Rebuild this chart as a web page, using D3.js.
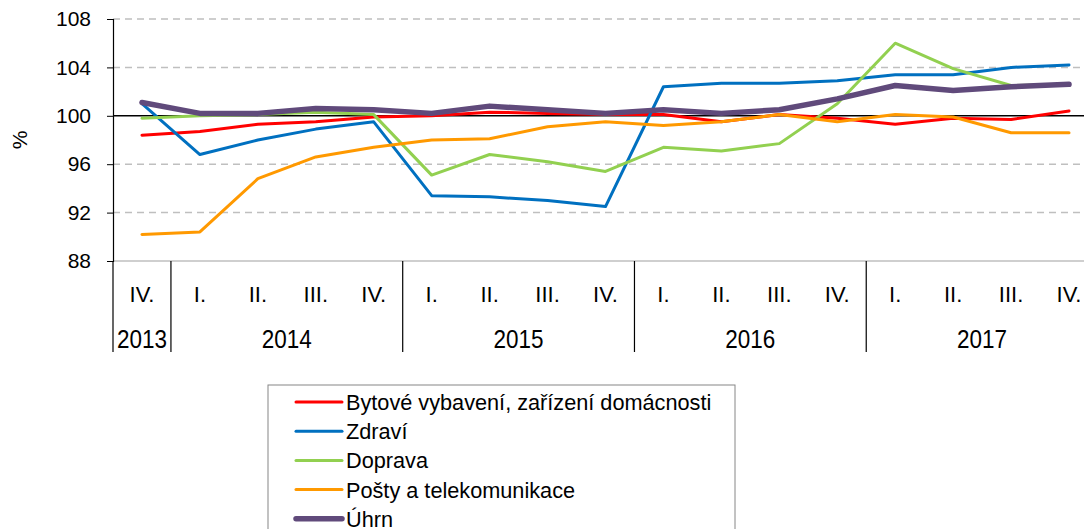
<!DOCTYPE html>
<html>
<head>
<meta charset="utf-8">
<script src="https://cdn.jsdelivr.net/npm/d3@7"></script>
<style>
  body { margin: 0; background: #fff; }
  svg { display: block; font-family: "Liberation Sans", Arial, sans-serif; }
</style>
</head>
<body>
<div id="chart"></div>
<script>
// quarters IV.2013 .. IV.2017
const quarters = ["IV.", "I.", "II.", "III.", "IV.", "I.", "II.", "III.", "IV.", "I.", "II.", "III.", "IV.", "I.", "II.", "III.", "IV."];
const years = [["2013", 1], ["2014", 4], ["2015", 4], ["2016", 4], ["2017", 4]];
const yTicks = [88, 92, 96, 100, 104, 108];

const bytove  = [98.4, 98.7, 99.3, 99.5, 99.9, 100.0, 100.3, 100.2, 100.1, 100.1, 99.5, 100.1, 99.8, 99.3, 99.8, 99.7, 100.4];
const zdravi  = [101.0, 96.8, 98.0, 98.9, 99.5, 93.4, 93.3, 93.0, 92.5, 102.4, 102.7, 102.7, 102.9, 103.4, 103.4, 104.0, 104.2];
const doprava = [99.8, 100.0, 100.1, 100.3, 100.1, 95.1, 96.8, 96.2, 95.4, 97.4, 97.1, 97.7, 101.0, 106.0, 103.9, 102.5, 102.6];
const posty   = [90.2, 90.4, 94.8, 96.6, 97.4, 98.0, 98.1, 99.1, 99.5, 99.2, 99.5, 100.1, 99.5, 100.1, 99.9, 98.6, 98.6];
const uhrn    = [101.1, 100.2, 100.2, 100.6, 100.5, 100.2, 100.8, 100.5, 100.2, 100.5, 100.2, 100.5, 101.4, 102.5, 102.1, 102.4, 102.6];

const series = [
  { name: "Bytové vybavení, zařízení domácnosti", values: bytove, color: "#ff0000", width: 3 },
  { name: "Zdraví", values: zdravi, color: "#0070c0", width: 3 },
  { name: "Doprava", values: doprava, color: "#92d050", width: 3 },
  { name: "Pošty a telekomunikace", values: posty, color: "#ff9900", width: 3 },
  { name: "Úhrn", values: uhrn, color: "#604a7b", width: 5.5 }
];

const width = 1084, height = 529;
const plotLeft = 113, plotRight = 1098, plotTop = 19, plotBottom = 261;

const svg = d3.select("#chart").append("svg")
  .attr("width", width)
  .attr("height", height);

const x = d3.scaleBand()
  .domain(d3.range(quarters.length))
  .range([plotLeft, plotRight]);

const y = d3.scaleLinear()
  .domain([88, 108])
  .range([plotBottom, plotTop]);

// gridlines
svg.append("g")
  .selectAll("line")
  .data(yTicks.filter(d => d !== 88 && d !== 100))
  .join("line")
  .attr("x1", plotLeft).attr("x2", plotRight)
  .attr("y1", d => y(d)).attr("y2", d => y(d))
  .attr("stroke", "#bfbfbf")
  .attr("stroke-width", 1.5)
  .attr("stroke-dasharray", "7,5");

// bottom axis line
svg.append("line")
  .attr("x1", plotLeft).attr("x2", plotRight)
  .attr("y1", y(88)).attr("y2", y(88))
  .attr("stroke", "#bfbfbf")
  .attr("stroke-width", 1.5);

// y axis
const yAxis = svg.append("g")
  .attr("transform", `translate(${plotLeft},0)`)
  .call(d3.axisLeft(y).tickValues(yTicks).tickSize(6).tickPadding(16));
yAxis.select(".domain").attr("stroke", "#000").attr("stroke-width", 1.2);
yAxis.selectAll(".tick line").attr("stroke", "#000");
yAxis.selectAll(".tick text")
  .attr("font-size", "21px")
  .attr("font-family", "Liberation Sans, Arial, sans-serif")
  .attr("fill", "#000");

svg.append("text")
  .attr("transform", `translate(27,${(plotTop + plotBottom) / 2}) rotate(-90)`)
  .attr("text-anchor", "middle")
  .attr("font-size", "21px")
  .text("%");

// category labels
svg.append("g")
  .selectAll("text")
  .data(quarters)
  .join("text")
  .attr("x", (d, i) => x(i) + x.bandwidth() / 2)
  .attr("y", 302)
  .attr("text-anchor", "middle")
  .attr("font-size", "22px")
  .text(d => d);

let idx = 0;
const yearPos = years.map(([label, n]) => {
  const start = idx;
  idx += n;
  return { label, start, end: idx };
});

svg.append("g")
  .selectAll("line")
  .data([0, ...yearPos.map(d => d.end)])
  .join("line")
  .attr("x1", d => d < quarters.length ? x(d) : plotRight)
  .attr("x2", d => d < quarters.length ? x(d) : plotRight)
  .attr("y1", plotBottom)
  .attr("y2", 352)
  .attr("stroke", "#000")
  .attr("stroke-width", 1.2);

svg.append("g")
  .selectAll("text")
  .data(yearPos)
  .join("text")
  .attr("transform", d => `translate(${(x(d.start) + (d.end < quarters.length ? x(d.end) : plotRight)) / 2},348) scale(1,1.18)`)
  .attr("text-anchor", "middle")
  .attr("font-size", "22.5px")
  .text(d => d.label);

// 100 reference line
svg.append("line")
  .attr("x1", plotLeft).attr("x2", plotRight)
  .attr("y1", y(100)).attr("y2", y(100))
  .attr("stroke", "#000")
  .attr("stroke-width", 1.5);

// series lines
const line = d3.line()
  .x((d, i) => x(i) + x.bandwidth() / 2)
  .y(d => y(d));

svg.append("g")
  .selectAll("path")
  .data(series)
  .join("path")
  .attr("d", d => line(d.values))
  .attr("fill", "none")
  .attr("stroke", d => d.color)
  .attr("stroke-width", d => d.width)
  .attr("stroke-linejoin", "round")
  .attr("stroke-linecap", "round");

// legend
const legend = svg.append("g").attr("transform", "translate(268,385)");
legend.append("rect")
  .attr("x", 0).attr("y", 0)
  .attr("width", 467).attr("height", 160)
  .attr("fill", "#fff")
  .attr("stroke", "#868686")
  .attr("stroke-width", 1);

const items = legend.selectAll("g.item")
  .data(series)
  .join("g")
  .attr("class", "item")
  .attr("transform", (d, i) => `translate(0,${17 + i * 29.2})`);

items.append("line")
  .attr("x1", 28).attr("x2", 74)
  .attr("y1", 0).attr("y2", 0)
  .attr("stroke", d => d.color)
  .attr("stroke-width", d => d.width)
  .attr("stroke-linecap", "round");

items.append("text")
  .attr("x", 78)
  .attr("y", 8)
  .attr("font-size", "21.7px")
  .text(d => d.name);
</script>
</body>
</html>
